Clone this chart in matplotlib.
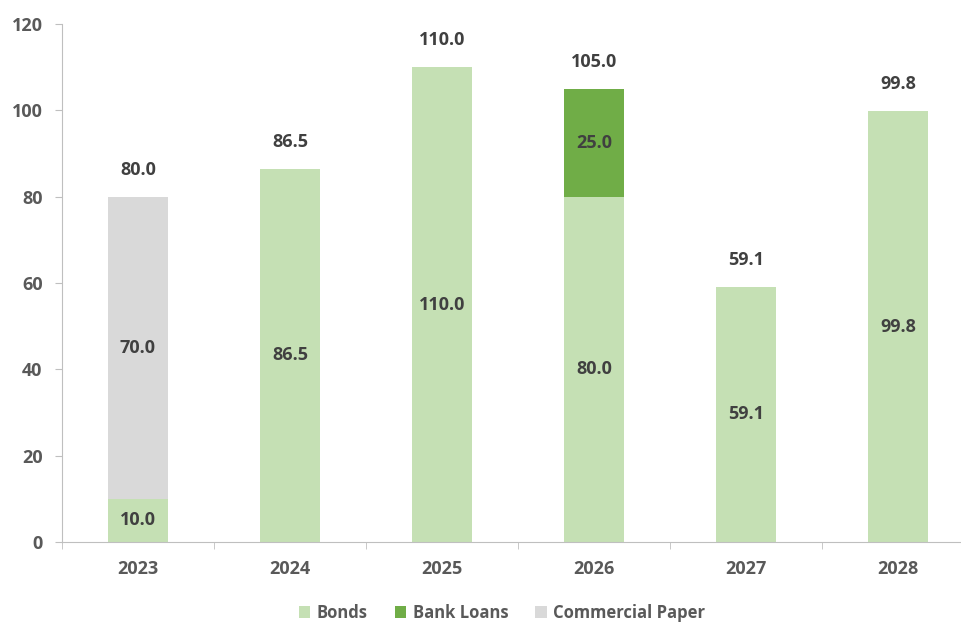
import matplotlib.pyplot as plt
import numpy as np

years = ["2023", "2024", "2025", "2026", "2027", "2028"]
bonds = [10.0, 86.5, 110.0, 80.0, 59.1, 99.8]
bank_loans = [0.0, 0.0, 0.0, 25.0, 0.0, 0.0]
commercial_paper = [70.0, 0.0, 0.0, 0.0, 0.0, 0.0]

plt.rcParams['font.family'] = ['Open Sans', 'DejaVu Sans']
plt.rcParams['font.weight'] = 'bold'

fig = plt.figure(figsize=(9.62, 6.22), dpi=100)
ax = fig.add_axes([62 / 962, 80 / 622, 912 / 962, 518 / 622])

x = np.arange(len(years))
w = 0.4
bonds = np.array(bonds)
bank_loans = np.array(bank_loans)
commercial_paper = np.array(commercial_paper)

series = [
    ("Bonds", bonds, "#c5e0b4"),
    ("Bank Loans", bank_loans, "#70ad47"),
    ("Commercial Paper", commercial_paper, "#d9d9d9"),
]
bottom = np.zeros(len(years))
for name, vals, col in series:
    ax.bar(x, vals, w, bottom=bottom, color=col, label=name)
    for i, v in enumerate(vals):
        if v > 0:
            ax.text(x[i], bottom[i] + v / 2, f"{v:.1f}", ha="center", va="center",
                    fontsize=13, fontweight="bold", color="#404040")
    bottom = bottom + vals

for i, t in enumerate(bottom):
    ax.annotate(f"{t:.1f}", (x[i], t), xytext=(0, 19.5), textcoords="offset points",
                ha="center", va="center", fontsize=13, fontweight="bold", color="#404040")

ax.set_xlim(-0.5, len(years) - 0.5)
ax.set_ylim(0, 120)
ax.set_yticks(range(0, 121, 20))
ax.set_xticks(x)
ax.set_xticklabels(years)
ax.set_xticks(np.arange(-0.5, len(years), 1), minor=True)
ax.tick_params(axis="x", which="major", length=0, pad=13)
ax.tick_params(axis="x", which="minor", length=5, color="#bfbfbf")
ax.tick_params(axis="y", length=5, color="#bfbfbf", pad=9)
for lab in ax.get_xticklabels() + ax.get_yticklabels():
    lab.set_fontsize(13)
    lab.set_fontweight("bold")
    lab.set_color("#595959")

for s in ["top", "right"]:
    ax.spines[s].set_visible(False)
ax.spines["left"].set_color("#bfbfbf")
ax.spines["bottom"].set_color("#bfbfbf")

leg = fig.legend(loc="center", bbox_to_anchor=(502 / 962, 1 - 613 / 622), ncol=3,
                 frameon=False, fontsize=12, handlelength=0.7, handleheight=0.7,
                 handletextpad=0.4, columnspacing=1.6)
for t in leg.get_texts():
    t.set_color("#595959")
    t.set_fontweight("bold")

fig.savefig("out.png", dpi=100)
